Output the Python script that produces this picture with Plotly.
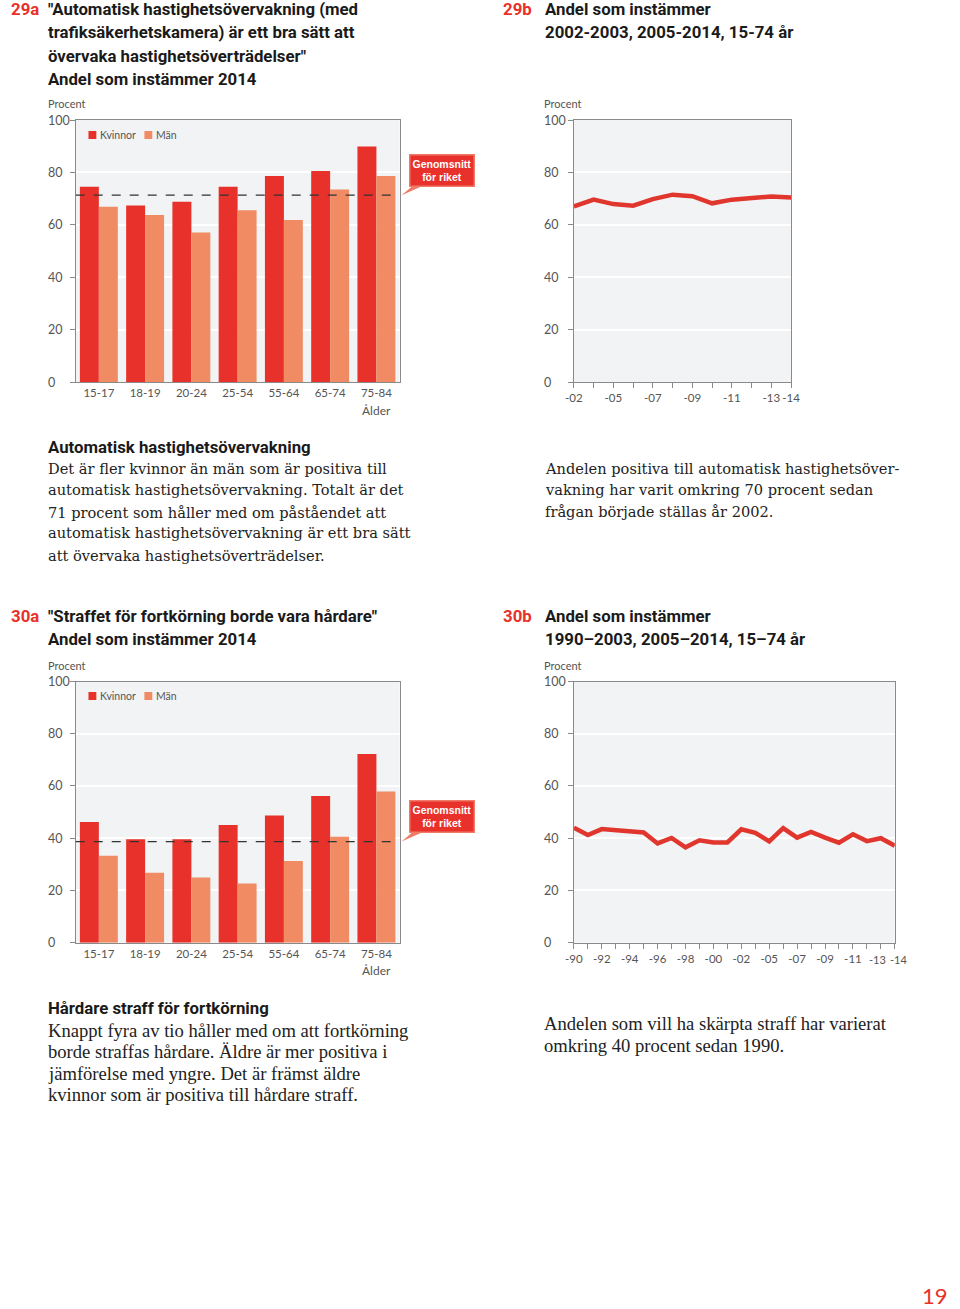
import plotly.graph_objects as go

W, H = 960, 1309

# ---------------- data ----------------
age_groups = ["15-17", "18-19", "20-24", "25-54", "55-64", "65-74", "75-84"]
kvinnor_29a = [74.5, 67.4, 68.8, 74.5, 78.6, 80.5, 89.9]
man_29a = [66.9, 63.7, 57.1, 65.6, 61.8, 73.5, 78.6]
avg_29a = 71.3

years_29b = ["2002", "2003", "2005", "2006", "2007", "2008", "2009", "2010",
             "2011", "2012", "2013", "2014"]
values_29b = [67.0, 69.6, 67.9, 67.3, 69.8, 71.5, 70.9, 68.2, 69.6, 70.4, 70.8, 70.4]
ticks_29b = ["-02", "", "-05", "", "-07", "", "-09", "", "-11", "", "-13", "-14"]

kvinnor_30a = [46.2, 39.6, 39.6, 45.1, 48.7, 56.2, 72.2]
man_30a = [33.3, 26.8, 25.0, 22.7, 31.3, 40.6, 57.9]
avg_30a = 38.7

years_30b = ["1990", "1991", "1992", "1993", "1994", "1995", "1996", "1997",
             "1998", "1999", "2000", "2001", "2002", "2003", "2005", "2006",
             "2007", "2008", "2009", "2010", "2011", "2012", "2013", "2014"]
values_30b = [44.0, 41.2, 43.5, 43.0, 42.6, 42.2, 38.0, 40.1, 36.5, 39.2, 38.4, 38.4,
              43.4, 42.1, 38.8, 43.9, 40.2, 42.4, 40.2, 38.3, 41.5, 38.9, 40.0, 37.1]
ticks_30b = ["-90", "", "-92", "", "-94", "", "-96", "", "-98", "", "-00", "",
             "-02", "", "-05", "", "-07", "", "-09", "", "-11", "", "-13", "-14"]

y_ticks = [0, 20, 40, 60, 80, 100]

# ---------------- style ----------------
RED = "#e8312a"
SALMON = "#f08b63"
LINE_RED = "#e0362d"
BG = "#f1f3f4"
AXIS = "#8a8a8a"
TICKTXT = "#555555"
SANS = "Roboto"
LIGHT = "Lato"
SERIF29 = "DejaVu Serif"
SERIF30 = "Liberation Serif"
TITLE_SIZE = 16.8
TICK_SIZE = 11.5


def px(x):
    return x / W


def py(y):
    return 1 - y / H


fig = go.Figure()

fig.add_trace(go.Bar(x=age_groups, y=kvinnor_29a, name="Kvinnor", marker_color=RED,
                     marker_line_width=0, xaxis="x", yaxis="y", showlegend=False))
fig.add_trace(go.Bar(x=age_groups, y=man_29a, name="Män", marker_color=SALMON,
                     marker_line_width=0, xaxis="x", yaxis="y", showlegend=False))
fig.add_trace(go.Scatter(x=years_29b, y=values_29b, mode="lines",
                         line=dict(color=LINE_RED, width=4.5), cliponaxis=False,
                         xaxis="x2", yaxis="y2", showlegend=False))
fig.add_trace(go.Bar(x=age_groups, y=kvinnor_30a, name="Kvinnor", marker_color=RED,
                     marker_line_width=0, xaxis="x3", yaxis="y3", showlegend=False))
fig.add_trace(go.Bar(x=age_groups, y=man_30a, name="Män", marker_color=SALMON,
                     marker_line_width=0, xaxis="x3", yaxis="y3", showlegend=False))
fig.add_trace(go.Scatter(x=years_30b, y=values_30b, mode="lines",
                         line=dict(color=LINE_RED, width=4.5), cliponaxis=False,
                         xaxis="x4", yaxis="y4", showlegend=False))

dom_top = [py(382), py(120)]
dom_bot = [py(942.7), py(681.5)]


def yax(domain, anchor):
    return dict(domain=domain, anchor=anchor, range=[0, 100], tickvals=y_ticks,
                showticklabels=False, ticks="outside", ticklen=5, tickcolor=AXIS,
                showgrid=True, gridcolor="white", gridwidth=2, zeroline=False,
                showline=True, linecolor=AXIS, linewidth=1, mirror=True,
                fixedrange=True)


def xbar(domain, anchor):
    return dict(domain=domain, anchor=anchor, type="category", ticks="",
                tickangle=0,
                showline=True, linecolor=AXIS, linewidth=1, mirror=True,
                showgrid=False, tickfont=dict(family=LIGHT, size=TICK_SIZE, color=TICKTXT),
                fixedrange=True)


def xline(domain, anchor, cats, labels):
    return dict(domain=domain, anchor=anchor, type="category",
                range=[0, len(cats) - 1], tickvals=cats, ticktext=labels,
                tickangle=0,
                ticks="outside", ticklen=5, tickcolor=AXIS,
                showline=True, linecolor=AXIS, linewidth=1, mirror=True,
                showgrid=False, tickfont=dict(family=LIGHT, size=TICK_SIZE, color=TICKTXT),
                fixedrange=True)


# the last two labels of 30b sit very close together: draw them as shifted texts
ticks_30b_axis = ticks_30b[:-2] + ["", ""]

fig.update_layout(
    width=W, height=H, margin=dict(l=0, r=0, t=0, b=0),
    paper_bgcolor="white", plot_bgcolor=BG,
    barmode="group", bargap=0.18, bargroupgap=0,
    xaxis=xbar([px(68), px(398)], "y"),
    yaxis=yax(dom_top, "x"),
    xaxis2=xline([px(575.7), px(797)], "y2", years_29b, ticks_29b),
    yaxis2=yax(dom_top, "x2"),
    xaxis3=xbar([px(68), px(398)], "y3"),
    yaxis3=yax(dom_bot, "x3"),
    xaxis4=xline([px(575.7), px(902.7)], "y4", years_30b, ticks_30b_axis),
    yaxis4=yax(dom_bot, "x4"),
)

ann = []
shapes = []


def txt(x, y, s, size, color="#1a1a1a", family=SANS, xanchor="left"):
    ann.append(dict(xref="paper", yref="paper", x=px(x), y=py(y), text=s,
                    showarrow=False, xanchor=xanchor, yanchor="middle",
                    font=dict(family=family, size=size, color=color)))


n30 = len(years_30b)
for idx, shift in [(n30 - 2, -3.5), (n30 - 1, 3.5)]:
    ann.append(dict(xref="x4", yref="paper", x=idx, y=py(959), text=ticks_30b[idx],
                    xshift=shift, showarrow=False, xanchor="center", yanchor="middle",
                    borderpad=0,
                    font=dict(family=LIGHT, size=11, color=TICKTXT)))

for xl, yref in [(38, "y"), (543, "y2"), (38, "y3"), (543, "y4")]:
    for v in y_ticks:
        ann.append(dict(xref="paper", yref=yref, x=px(xl), y=v, text=str(v),
                        showarrow=False, xanchor="left", yanchor="middle",
                        font=dict(family=LIGHT, size=12.5, color=TICKTXT)))

for xr, yy in [("x", 410), ("x3", 970)]:
    ann.append(dict(xref=xr, yref="paper", x=age_groups[-1], y=py(yy), text="Ålder",
                    showarrow=False, xanchor="center", yanchor="middle",
                    font=dict(family=LIGHT, size=12, color=TICKTXT)))

for xx, yy in [(38, 103), (543, 103), (38, 665), (543, 665)]:
    txt(xx, yy, "Procent", 11, TICKTXT, LIGHT)

for yy in [135, 696]:
    for sx, label, col in [(81, "Kvinnor", RED), (138, "Män", SALMON)]:
        shapes.append(dict(type="rect", xref="paper", yref="paper",
                           x0=px(sx), x1=px(sx + 8), y0=py(yy + 4), y1=py(yy - 4),
                           fillcolor=col, line_width=0))
        txt(sx + 10, yy, label, 10.5, TICKTXT, LIGHT)

for xr, yr, avg in [("x", "y", avg_29a), ("x3", "y3", avg_30a)]:
    shapes.append(dict(type="line", xref=xr + " domain", yref=yr, x0=0, x1=1,
                       y0=avg, y1=avg, line=dict(color="#333333", width=1.2, dash="dash"),
                       layer="above"))
    shapes.append(dict(type="path", xref=xr + " domain", yref=yr,
                       xsizemode="pixel", xanchor=1, ysizemode="pixel", yanchor=avg,
                       path="M 2 0 L 15 11 L 27 11 Z", fillcolor="#f07a68",
                       line_width=0, layer="above"))
    ann.append(dict(xref=xr + " domain", yref=yr, x=(441 - 68) / 330, y=avg,
                    yshift=25, text="<b>Genomsnitt<br>för riket</b>", showarrow=False,
                    xanchor="center", yanchor="middle", align="center",
                    bgcolor=RED, bordercolor="#f07a68", borderwidth=1.5, borderpad=2,
                    font=dict(family="Liberation Sans", size=10.5, color="white")))

# ---------------- titles ----------------
txt(0, 9, "<b>29a</b>", TITLE_SIZE, RED)
for yy, s in [(9, "\"Automatisk hastighetsövervakning (med"),
              (32, "trafiksäkerhetskamera) är ett bra sätt att"),
              (56, "övervaka hastighetsöverträdelser\""),
              (79, "Andel som instämmer 2014")]:
    txt(38, yy, "<b>" + s + "</b>", TITLE_SIZE)

txt(501, 9, "<b>29b</b>", TITLE_SIZE, RED)
for yy, s in [(9, "Andel som instämmer"), (32, "2002-2003, 2005-2014, 15-74 år")]:
    txt(544, yy, "<b>" + s + "</b>", TITLE_SIZE)

txt(0, 616, "<b>30a</b>", TITLE_SIZE, RED)
for yy, s in [(616, "\"Straffet för fortkörning borde vara hårdare\""),
              (639, "Andel som instämmer 2014")]:
    txt(38, yy, "<b>" + s + "</b>", TITLE_SIZE)

txt(501, 616, "<b>30b</b>", TITLE_SIZE, RED)
for yy, s in [(616, "Andel som instämmer"), (639, "1990–2003, 2005–2014, 15–74 år")]:
    txt(544, yy, "<b>" + s + "</b>", TITLE_SIZE)

# ---------------- body texts ----------------
txt(38, 447, "<b>Automatisk hastighetsövervakning</b>", TITLE_SIZE)
for yy, s in [(468, "Det är fler kvinnor än män som är positiva till"),
              (490, "automatisk hastighetsövervakning. Totalt är det"),
              (512, "71 procent som håller med om påståendet att"),
              (533, "automatisk hastighetsövervakning är ett bra sätt"),
              (555, "att övervaka hastighetsöverträdelser.")]:
    txt(38, yy, s, 14.6, "#222222", SERIF29)

for yy, s in [(468, "Andelen positiva till automatisk hastighetsöver-"),
              (489, "vakning har varit omkring 70 procent sedan"),
              (511, "frågan började ställas år 2002.")]:
    txt(544, yy, s, 14.6, "#222222", SERIF29)

txt(38, 1008, "<b>Hårdare straff för fortkörning</b>", TITLE_SIZE)
for yy, s in [(1030, "Knappt fyra av tio håller med om att fortkörning"),
              (1051, "borde straffas hårdare. Äldre är mer positiva i"),
              (1073, "jämförelse med yngre. Det är främst äldre"),
              (1094, "kvinnor som är positiva till hårdare straff.")]:
    txt(38, yy, s, 18.6, "#222222", SERIF30)

for yy, s in [(1023, "Andelen som vill ha skärpta straff har varierat"),
              (1045, "omkring 40 procent sedan 1990.")]:
    txt(543, yy, s, 18.6, "#222222", SERIF30)

txt(959, 1295, "19", 22, RED, LIGHT, xanchor="right")

fig.update_layout(annotations=ann, shapes=shapes)
fig.write_html(
    "out.html",
    config={"displayModeBar": False},
    post_script="document.body.style.margin='0';"
                "document.body.style.padding='0';"
                "document.body.style.overflow='hidden';"
                "document.documentElement.style.overflow='hidden';",
)
